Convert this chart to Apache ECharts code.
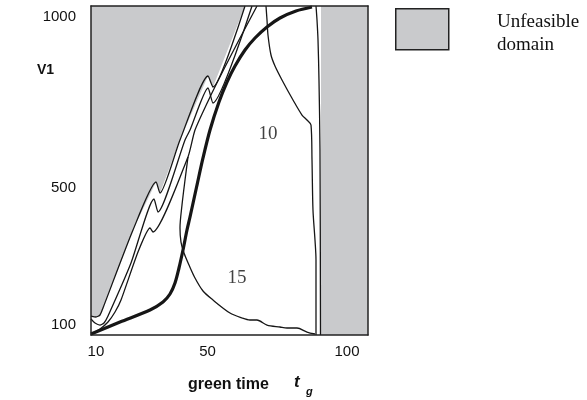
<!DOCTYPE html>
<html>
<head>
<meta charset="utf-8">
<script src="https://cdn.jsdelivr.net/npm/echarts@6/dist/echarts.min.js"></script>
<style>html,body{margin:0;padding:0;background:#fff}#c{width:587px;height:400px}</style>
</head>
<body>
<div id="c"></div>
<script>
// axis ranges and ticks
const xRange = [8.244, 107.53];
const yRange = [71.2, 1031.2];
const xTicks = [10, 50, 100];
const yTicks = [100, 500, 1000];

// unfeasible domain boundary (left) and right strip
const curveA = [[8.24,126.6],[10.04,123.7],[11.47,129.5],[12.54,150.0],[23.30,377.5],[31.54,517.6],[32.97,485.4],[40.14,640.2],[50.18,826.9],[51.97,794.8],[63.44,1031.2]];
const rightStrip = [[90.68,71.2],[107.53,71.2],[107.53,1031.2],[90.68,1031.2]];
const rightEdge = [[88.89,1031.2],[89.25,990.3],[89.61,932.0],[89.96,815.3],[90.32,611.0],[90.50,71.2]];

// contour lines
const curveB = [[8.24,117.9],[9.68,106.2],[11.47,100.3],[12.90,106.2],[14.34,126.6],[22.58,281.3],[30.82,468.0],[32.26,430.1],[41.94,640.2],[43.73,669.3],[50.18,791.9],[51.97,748.2],[65.95,1031.2]];
const curveC = [[8.24,74.1],[11.47,88.7],[14.34,109.1],[16.85,138.3],[19.00,173.3],[25.09,313.4],[29.39,383.4],[30.47,371.7],[43.01,590.6],[45.52,669.3],[50.90,765.7],[56.27,853.2],[61.65,937.8],[67.74,1031.2]];
const curve15 = [[43.01,590.6],[41.94,523.4],[40.86,450.5],[40.14,383.4],[40.50,342.5],[41.58,310.4],[43.37,275.4],[45.52,237.5],[48.39,199.6],[51.97,173.3],[58.06,135.4],[62.37,120.8],[65.23,114.9],[67.74,114.9],[71.33,100.3],[75.99,94.5],[78.49,91.6],[82.08,91.6],[85.66,79.9],[88.53,74.1]];
const curve10 = [[70.97,1031.2],[71.33,990.3],[71.68,946.6],[72.76,888.2],[74.19,856.1],[76.70,815.3],[80.65,756.9],[83.87,713.1],[85.66,698.5],[87.10,683.9],[87.46,581.8],[87.81,435.9],[88.53,348.4],[88.89,290.0],[88.89,71.2]];
const curveThick = [[8.24,74.1],[18.64,109.1],[29.39,144.1],[34.05,167.5],[36.56,190.8],[38.35,222.9],[39.78,266.7],[41.22,319.2],[42.65,377.5],[43.73,415.5],[46.24,508.8],[48.39,587.7],[50.90,669.3],[54.12,751.1],[56.99,809.4],[59.86,856.1],[63.44,902.8],[67.03,937.8],[71.33,970.0],[75.99,996.2],[81.72,1016.6],[87.46,1028.3]];

// contour labels
const contourLabels = [[71.68,657.7,'10'],[60.57,237.5,'15']];

const leftPoly = [[xRange[0], yRange[1]]].concat(curveA.slice().reverse());

const LINE = '#161616';
const GRAY = '#c9cacc';

function polySeries(poly){
  return {
    type:'custom', coordinateSystem:'cartesian2d', xAxisIndex:0, yAxisIndex:0, z:1, silent:true,
    data:[0],
    renderItem:function(params, api){
      return {type:'polygon', shape:{points: poly.map(p=>api.coord(p))}, style:{fill:GRAY, stroke:null}};
    }
  };
}
function lineSeries(data, w, smooth){
  return {type:'line', data:data, xAxisIndex:0, yAxisIndex:0, symbol:'none', smooth:smooth, z:3, silent:true,
    lineStyle:{color:LINE, width:w}};
}

const chart = echarts.init(document.getElementById('c'), null, {renderer:'canvas'});
const axisFont = {fontFamily:'Liberation Sans, Arial, sans-serif', fontSize:15, color:'#111', formatter:v=>String(v)};
chart.setOption({
  animation:false,
  backgroundColor:'#fff',
  grid:{left:91, right:219, top:6, bottom:65, containLabel:false},
  xAxis:[
    {type:'value', min:xRange[0], max:xRange[1], position:'bottom', z:5,
     axisLine:{show:true, onZero:false, lineStyle:{color:'#222', width:1.5}},
     axisTick:{show:false}, splitLine:{show:false},
     axisLabel:Object.assign({customValues:xTicks, margin:9}, axisFont)},
    {type:'value', min:xRange[0], max:xRange[1], position:'top', z:5,
     axisLine:{show:true, onZero:false, lineStyle:{color:'#222', width:1.5}},
     axisTick:{show:false}, splitLine:{show:false}, axisLabel:{show:false}}
  ],
  yAxis:[
    {type:'value', min:yRange[0], max:yRange[1], position:'left', z:5,
     axisLine:{show:true, onZero:false, lineStyle:{color:'#222', width:1.5}},
     axisTick:{show:false}, splitLine:{show:false},
     axisLabel:Object.assign({customValues:yTicks, margin:15}, axisFont)},
    {type:'value', min:yRange[0], max:yRange[1], position:'right', z:5,
     axisLine:{show:true, onZero:false, lineStyle:{color:'#222', width:1.5}},
     axisTick:{show:false}, splitLine:{show:false}, axisLabel:{show:false}}
  ],
  series:[
    polySeries(leftPoly),
    polySeries(rightStrip),
    lineSeries(curveA, 1.3, 0.2),
    lineSeries(rightEdge, 1.3, 0.3),
    lineSeries(curveB, 1.3, 0.2),
    lineSeries(curveC, 1.3, 0.2),
    lineSeries(curve15, 1.3, 0.3),
    lineSeries(curve10, 1.3, 0.3),
    lineSeries(curveThick, 3.2, 0.3),
    {type:'scatter', xAxisIndex:0, yAxisIndex:0, symbolSize:0, z:4, silent:true,
     data:contourLabels.map(d=>({value:[d[0],d[1]], name:d[2]})),
     label:{show:true, position:'inside', formatter:p=>p.name,
       fontFamily:'Liberation Serif, Times New Roman, serif', fontSize:19, color:'#111'}}
  ],
  graphic:[
    {type:'rect', left:395, top:8, shape:{width:53, height:41}, style:{fill:GRAY, stroke:'#222', lineWidth:1.5}},
    {type:'text', left:497, top:11, style:{text:'Unfeasible\ndomain', font:'19px "Liberation Serif", serif', fill:'#111', lineHeight:23}},
    {type:'text', left:37, top:63, style:{text:'V1', font:'bold 14px "Liberation Sans", Arial, sans-serif', fill:'#111'}},
    {type:'text', left:188, top:377, style:{text:'green time', font:'bold 16px "Liberation Sans", Arial, sans-serif', fill:'#111'}},
    {type:'text', left:294, top:374, style:{text:'t', font:'italic bold 17px "Liberation Sans", Arial, sans-serif', fill:'#111'}},
    {type:'text', left:306, top:386, style:{text:'g', font:'italic bold 11px "Liberation Sans", Arial, sans-serif', fill:'#111'}}
  ]
});
</script>
</body>
</html>
